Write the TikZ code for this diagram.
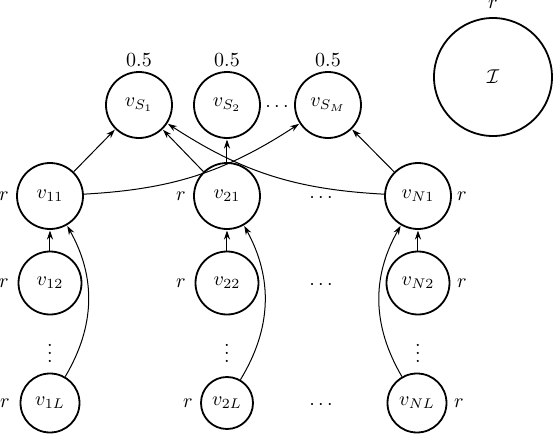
\documentclass[tikz,border=0pt]{standalone}
\usetikzlibrary{arrows.meta}
\begin{document}
\begin{tikzpicture}[x=0.5pt,y=-0.5pt,
  vnode/.style={circle,draw,line width=0.9pt,inner sep=0pt,minimum size=#1},
  vnode/.default=33pt,
  lbl/.style={inner sep=0pt},
  arr/.style={-{Stealth[length=4.5pt,width=3pt]},line width=0.5pt,shorten >=0.3pt}]
\useasboundingbox (0,0) rectangle (554,434);
% top row
\node[vnode] (s1) at (139,105) {$v_{S_1}$};
\node[vnode] (s2) at (227,105) {$v_{S_2}$};
\node[vnode] (sm) at (328,105) {$v_{S_M}$};
\node[lbl] (w1) at (139,60) {$0.5$};
\node[lbl] (w2) at (227,60) {$0.5$};
\node[lbl] (wm) at (328,60) {$0.5$};
\node[lbl] (sd) at (277,107) {$\cdots$};
% big circle
\node[vnode=59pt] (I) at (493,77) {$\mathcal{I}$};
\node[lbl] (Ir) at (493,4) {$r$};
% row 1
\node[vnode] (v11) at (50,196) {$v_{11}$};
\node[vnode] (v21) at (227,196) {$v_{21}$};
\node[vnode] (vN1) at (418,196) {$v_{N1}$};
% row 2
\node[vnode=31.5pt] (v12) at (50,283) {$v_{12}$};
\node[vnode=31.5pt] (v22) at (227,283) {$v_{22}$};
\node[vnode=31.5pt] (vN2) at (418,283) {$v_{N2}$};
% row L
\node[vnode=29.5pt] (v1L) at (50,403) {$v_{1L}$};
\node[vnode=26pt] (v2L) at (227,403) {$v_{2L}$};
\node[vnode=29.5pt] (vNL) at (417,403) {$v_{NL}$};
% r labels
\node[lbl] (r11) at (4,196) {$r$};
\node[lbl] (r21) at (181,196) {$r$};
\node[lbl] (rN1) at (462,196) {$r$};
\node[lbl] (r12) at (4,283) {$r$};
\node[lbl] (r22) at (181,283) {$r$};
\node[lbl] (rN2) at (462,283) {$r$};
\node[lbl] (r1L) at (5,403) {$r$};
\node[lbl] (r2L) at (188,403) {$r$};
\node[lbl] (rNL) at (459,403) {$r$};
% dots
\node[lbl] (h1) at (321,198) {$\cdots$};
\node[lbl] (h2) at (321,285) {$\cdots$};
\node[lbl] (h3) at (321,405) {$\cdots$};
\node[lbl] (d1) at (50,347) {$\vdots$};
\node[lbl] (d2) at (227,347) {$\vdots$};
\node[lbl] (d3) at (418,347) {$\vdots$};
% edges to sinks
\draw[arr] (v11) -- (s1);
\draw[arr] (v11) to[bend right=15] (sm);
\draw[arr] (v21) -- (s1);
\draw[arr] (v21) -- (s2);
\draw[arr] (vN1) to[bend left=15] (s1);
\draw[arr] (vN1) -- (sm);
% chains
\draw[arr] (v12) -- (v11);
\draw[arr] (v22) -- (v21);
\draw[arr] (vN2) -- (vN1);
\draw[arr] (v1L) to[bend right=30] (v11);
\draw[arr] (v2L) to[bend right=30] (v21);
\draw[arr] (vNL) to[bend left=30] (vN1);
\end{tikzpicture}
\end{document}
